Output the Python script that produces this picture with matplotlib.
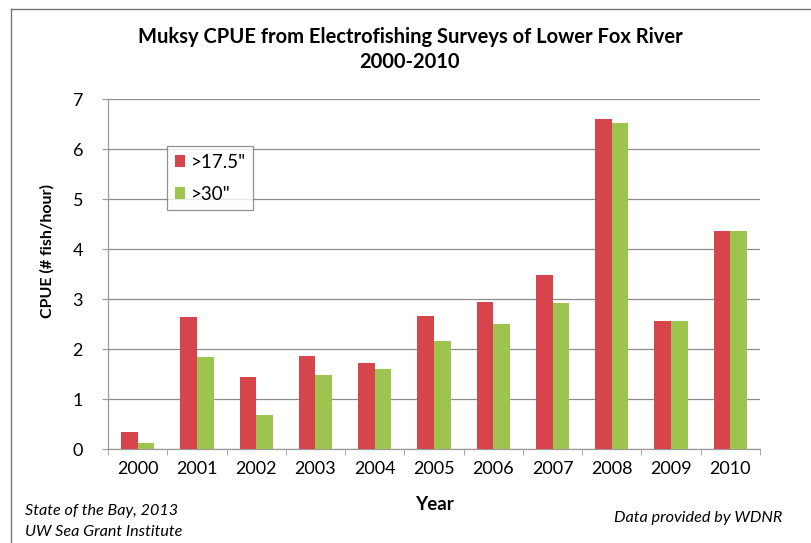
import matplotlib
matplotlib.use("Agg")
import matplotlib.pyplot as plt
import numpy as np
from matplotlib.lines import Line2D

years = ["2000", "2001", "2002", "2003", "2004", "2005", "2006", "2007", "2008", "2009", "2010"]
cpue_175 = [0.35, 2.64, 1.45, 1.86, 1.73, 2.66, 2.95, 3.48, 6.60, 2.57, 4.36]
cpue_30 = [0.13, 1.85, 0.68, 1.48, 1.60, 2.17, 2.50, 2.93, 6.53, 2.57, 4.36]
series_labels = ['>17.5"', '>30"']

plt.rcParams['font.family'] = ['Lato', 'DejaVu Sans']

W, H = 811, 543
fig = plt.figure(figsize=(W / 100, H / 100), dpi=100)
ax = fig.add_axes([108 / W, 1 - 449 / H, (760 - 108) / W, (449 - 99) / H])

x = np.arange(len(years))
bw = 0.28
red = '#D6454C'
green = '#9CC44E'
ax.bar(x - bw / 2, cpue_175, bw, color=red, label=series_labels[0], zorder=3)
ax.bar(x + bw / 2, cpue_30, bw, color=green, label=series_labels[1], zorder=3)

ax.set_xlim(-0.5, len(years) - 0.5)
ax.set_ylim(0, 7)
ax.set_yticks(range(0, 8))
ax.yaxis.grid(True, color='#8c8c8c', linewidth=0.9, zorder=0)
ax.set_axisbelow(True)
for s in ['top', 'right']:
    ax.spines[s].set_visible(False)
for s in ['left', 'bottom']:
    ax.spines[s].set_color('#9a9a9a')
    ax.spines[s].set_linewidth(0.9)

ax.set_xticks(x)
ax.set_xticklabels(years, fontsize=13)
ax.set_xticks(np.arange(-0.5, len(years)), minor=True)
ax.tick_params(axis='x', which='major', length=0, pad=9)
ax.tick_params(axis='x', which='minor', length=4, color='#9a9a9a')
ax.tick_params(axis='y', length=4, color='#9a9a9a', labelsize=13, pad=14)

fig.text(434 / W, 1 - 505 / H, 'Year', fontsize=13.5, fontweight='bold', ha='center', va='center')
fig.text(47 / W, 1 - 251 / H, 'CPUE (# fish/hour)', fontsize=11.5, fontweight='bold',
         ha='center', va='center', rotation=90)

fig.text(410 / W, 1 - 37 / H, 'Muksy CPUE from Electrofishing Surveys of Lower Fox River',
         ha='center', va='center', fontsize=14.5, fontweight='bold')
fig.text(410 / W, 1 - 62 / H, '2000-2010', ha='center', va='center', fontsize=14.5, fontweight='bold')

leg = ax.legend(loc='upper left', bbox_to_anchor=((167 - 108) / 652, (449 - 146) / 350),
                borderaxespad=0, fontsize=13.5, frameon=True, fancybox=False,
                handlelength=0.55, handleheight=0.55, labelspacing=0.8, borderpad=0.4,
                handletextpad=0.3)
leg.get_frame().set_edgecolor('#777777')
leg.get_frame().set_linewidth(0.9)

fig.text(25 / W, 1 - 511 / H, 'State of the Bay, 2013', fontsize=11.6, style='italic', va='center')
fig.text(25 / W, 1 - 532 / H, 'UW Sea Grant Institute', fontsize=11.6, style='italic', va='center')
fig.text(782 / W, 1 - 518 / H, 'Data provided by WDNR', fontsize=11.7, style='italic', va='center', ha='right')

fig.add_artist(Line2D([11 / W, 11 / W], [0, 1 - 9 / H], transform=fig.transFigure, color='#777777', lw=1))
fig.add_artist(Line2D([11 / W, 1], [1 - 9 / H, 1 - 9 / H], transform=fig.transFigure, color='#777777', lw=1))

fig.savefig('out.png', dpi=100)
